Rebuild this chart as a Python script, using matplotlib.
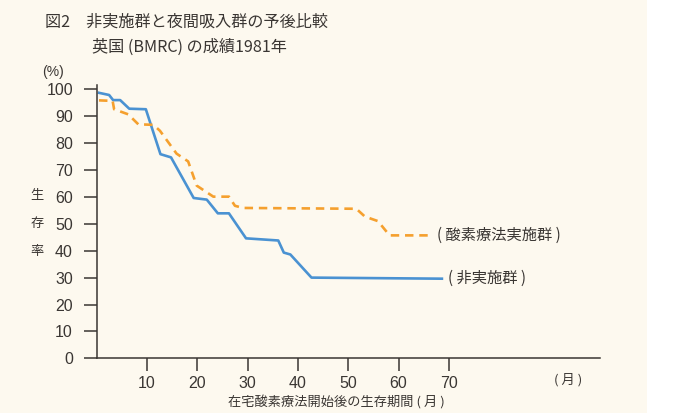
import matplotlib
matplotlib.use("Agg")
import matplotlib.pyplot as plt
from matplotlib.patches import Rectangle

plt.rcParams['font.family'] = ['Noto Sans CJK JP', 'DejaVu Sans']

# survival curves, months vs %
months_ctrl = [0.5, 2.5, 3.3, 4.7, 6.5, 9.8, 12.7, 14.8, 19.3, 21.9, 24.1, 26.3,
               29.7, 36.1, 37.2, 38.5, 42.7, 68.6]
surv_ctrl = [98.7, 97.9, 96.0, 96.0, 92.8, 92.6, 75.9, 74.7, 59.6, 59.0, 53.9, 53.9,
             44.6, 43.8, 39.3, 38.6, 30.0, 29.6]

months_o2 = [0.5, 3.2, 3.5, 6.3, 8.3, 11.3, 12.6, 15.9, 18.2, 19.9, 23.2, 26.3,
             27.5, 29.1, 51.6, 53.3, 55.9, 58.2, 66.5]
surv_o2 = [95.9, 95.7, 92.6, 90.7, 87.0, 86.8, 84.6, 76.1, 73.2, 64.2, 60.1, 60.1,
           56.7, 55.9, 55.6, 52.7, 51.0, 45.7, 45.7]

xticks = [10, 20, 30, 40, 50, 60, 70]
yticks = list(range(0, 101, 10))

bg = '#fdf9ef'
ink = '#3a3633'
blue = '#4a92d2'
orange = '#f5a02e'

fig = plt.figure(figsize=(6.75, 4.13), dpi=100)
fig.patch.set_facecolor('white')
fig.patches.append(Rectangle((0, 0), 647 / 675, 1, transform=fig.transFigure,
                             facecolor=bg, edgecolor='none', zorder=-10))

ax = fig.add_axes([96.5 / 675, 1 - 358.3 / 413, (600 - 96.5) / 675, (358.3 - 85.3) / 413])
ax.set_facecolor('none')

ax.plot(months_ctrl, surv_ctrl, color=blue, lw=1.9, solid_joinstyle='round')
ax.plot(months_o2, surv_o2, color=orange, lw=1.9, linestyle=(0, (3.2, 2.2)))

ax.set_xlim(0, 100)
ax.set_ylim(0, 101.5)
ax.set_xticks(xticks)
ax.set_yticks(yticks)
for s in ['top', 'right']:
    ax.spines[s].set_visible(False)
for s in ['left', 'bottom']:
    ax.spines[s].set_color(ink)
    ax.spines[s].set_linewidth(1.1)
ax.tick_params(direction='out', length=9.5, width=1.1, color=ink, labelcolor=ink)
ax.tick_params(axis='y', pad=7.5)
ax.tick_params(axis='x', pad=3.5)
for lab in ax.get_xticklabels() + ax.get_yticklabels():
    lab.set_fontfamily(['Liberation Sans', 'DejaVu Sans'])
    lab.set_fontsize(11.5)

ax.text(67.6, 45.8, '( 酸素療法実施群 )', fontsize=11, color=ink, va='center', ha='left')
ax.text(69.8, 29.9, '( 非実施群 )', fontsize=11, color=ink, va='center', ha='left')

def ftext(x, y, s, **kw):
    fig.text(x / 675, 1 - y / 413, s, color=ink, **kw)

ftext(45, 22, '図2　非実施群と夜間吸入群の予後比較', fontsize=11.6, va='center', ha='left')
ftext(92, 47, '英国 (BMRC) の成績1981年', fontsize=11.6, va='center', ha='left')
ftext(53, 72, '(%)', fontsize=10, va='center', ha='center',
      family=['Liberation Sans', 'DejaVu Sans'])
for ch, yy in zip('生存率', [195, 223, 251]):
    ftext(37, yy, ch, fontsize=9.5, va='center', ha='center')
ftext(568, 380, '( 月 )', fontsize=9.5, va='center', ha='center')
ftext(336, 402, '在宅酸素療法開始後の生存期間 ( 月 )', fontsize=9.5, va='center', ha='center')

fig.savefig('out.png', dpi=100, facecolor=fig.get_facecolor())
